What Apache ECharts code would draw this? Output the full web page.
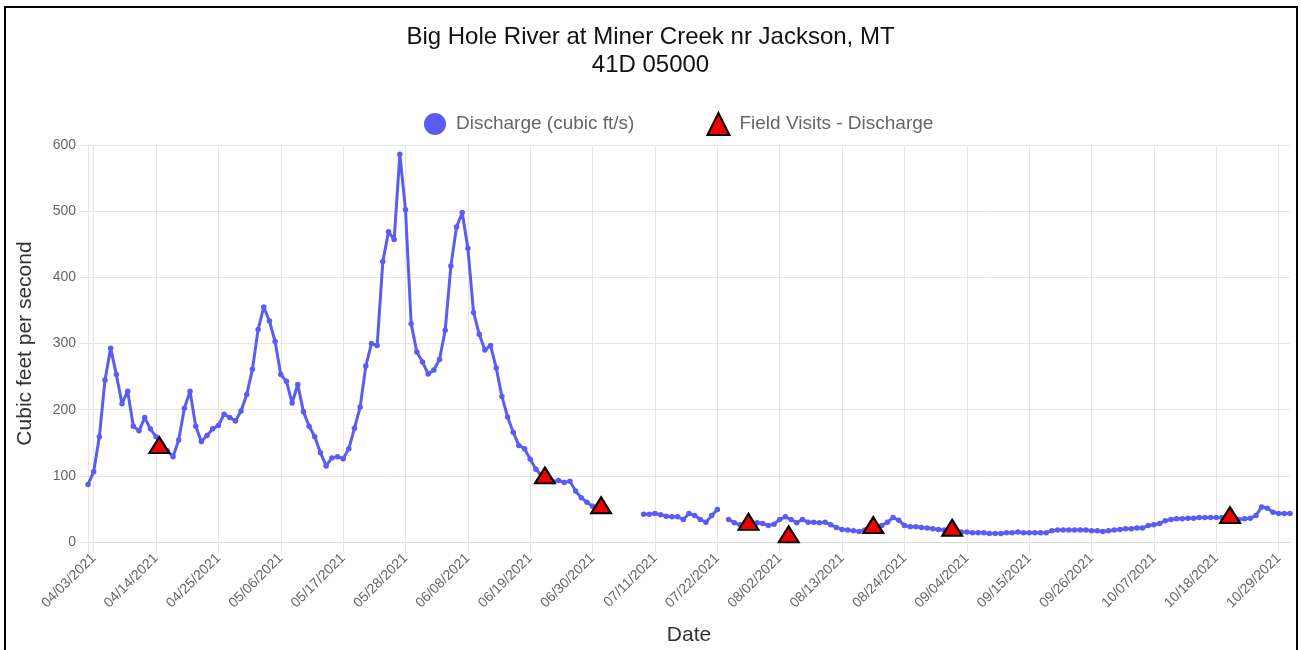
<!DOCTYPE html>
<html>
<head>
<meta charset="utf-8">
<title>Big Hole River at Miner Creek nr Jackson, MT</title>
<script src="https://cdn.jsdelivr.net/npm/echarts@6/dist/echarts.min.js"></script>
<style>
  html, body { margin: 0; padding: 0; background: #fff; }
  #chart { width: 1301px; height: 650px; }
</style>
</head>
<body>
<div id="chart"></div>
<script>
// Daily discharge, one value per day starting 2021-04-02 (null = no record)
const startDate = '2021-04-02';
const discharge = [
  87, 106, 159, 245, 293, 253, 209, 228, 175, 168,
  188, 171, 159, 148, 138, 129, 154, 202, 228, 175,
  152, 161, 171, 176, 193, 188, 183, 198, 223, 261,
  321, 355, 334, 303, 253, 243, 210, 238, 197, 175,
  159, 135, 115, 127, 129, 126, 141, 172, 204, 266,
  300, 297, 424, 469, 457, 586, 502, 330, 287, 272,
  254, 260, 276, 320, 417, 476, 498, 444, 347, 314,
  290, 297, 263, 220, 189, 166, 146, 141, 125, 110,
  100, 95, 91, 93, 90, 92, 77, 67, 60, 54,
  50, null, null, null, null, null, null, null, 42, 42,
  43, 41, 39, 38, 38, 34, 43, 40, 34, 30,
  40, 49, null, 34, 29, 26, 24, 26, 29, 28,
  25, 27, 34, 38, 34, 29, 34, 30, 30, 29,
  30, 26, 22, 19, 18, 17, 16, 18, 19, 21,
  25, 30, 37, 33, 25, 23, 23, 22, 21, 20,
  19, 18, 17, 16, 15, 15, 14, 14, 14, 13,
  13, 13, 14, 14, 15, 14, 14, 14, 14, 14,
  17, 18, 18, 18, 18, 18, 18, 17, 17, 16,
  17, 18, 19, 20, 20, 21, 21, 25, 26, 28,
  32, 34, 35, 35, 36, 36, 37, 37, 37, 37,
  37, 36, 35, 34, 35, 36, 40, 53, 51, 45,
  43, 43, 43
];

// Field visit measurements
const visitTimes = [
  '2021-04-14T14:00', '2021-06-21T14:00', '2021-07-01T12:00', '2021-07-27T12:00',
  '2021-08-03T14:00', '2021-08-18T12:00', '2021-09-01T10:00', '2021-10-20T10:00'
];
const visitValues = [142, 96, 51, 26, 7, 21, 17, 36];

// Date labels shown every 11 days, starting from the second day
const labelStep = 11;
const labelFirst = 1;

const DAY = 86400000;
const t0 = Date.parse(startDate + 'T00:00Z');
const pad = n => (n < 10 ? '0' : '') + n;
const dates = discharge.map((_, i) => {
  const d = new Date(t0 + i * DAY);
  return pad(d.getUTCMonth() + 1) + '/' + pad(d.getUTCDate()) + '/' + d.getUTCFullYear();
});
const visits = visitTimes.map((t, i) => [(Date.parse(t + 'Z') - t0) / DAY, visitValues[i]]);
const lastIndex = discharge.length - 1;

const isLabelDay = idx => idx >= labelFirst && (idx - labelFirst) % labelStep === 0;

const gridColor = '#e6e6e6';
const lineColor = '#5b5bf5';
const font = 'Liberation Sans, Arial, Helvetica, sans-serif';

const chart = echarts.init(document.getElementById('chart'), null, { renderer: 'canvas' });
chart.setOption({
  animation: false,
  backgroundColor: '#fff',
  textStyle: { fontFamily: font },
  title: {
    text: 'Big Hole River at Miner Creek nr Jackson, MT\n41D 05000',
    left: 'center',
    top: 18,
    textStyle: { fontSize: 24, fontWeight: 'normal', color: '#111', lineHeight: 28, fontFamily: font }
  },
  legend: {
    left: 419,
    top: 107,
    itemWidth: 22,
    itemHeight: 22,
    itemGap: 72,
    textStyle: { fontSize: 19, color: '#666', fontFamily: font, padding: [0, 0, 0, 5] },
    data: [
      { name: 'Discharge (cubic ft/s)', icon: 'circle', itemStyle: { color: lineColor, borderWidth: 0 } },
      { name: 'Field Visits - Discharge', icon: 'triangle',
        itemStyle: { color: '#f00000', borderColor: '#000', borderWidth: 2 } }
    ]
  },
  grid: { left: 88, right: 11, top: 145, bottom: 108, containLabel: false, outerBoundsMode: 'none' },
  xAxis: [
    {
      type: 'category',
      data: dates,
      boundaryGap: false,
      name: 'Date',
      nameLocation: 'middle',
      nameGap: 83,
      nameTextStyle: { fontSize: 21, color: '#333', fontFamily: font },
      axisLine: { show: true, lineStyle: { color: '#d9d9d9', width: 1 } },
      axisTick: {
        show: true,
        length: 11,
        interval: idx => idx === 0 || isLabelDay(idx),
        lineStyle: { color: gridColor }
      },
      axisLabel: {
        interval: idx => isLabelDay(idx),
        rotate: 45,
        margin: 14,
        fontSize: 14,
        color: '#666',
        fontFamily: font
      },
      splitLine: {
        show: true,
        interval: idx => isLabelDay(idx),
        lineStyle: { color: gridColor, width: 1 }
      }
    },
    {
      type: 'value',
      min: 0,
      max: lastIndex,
      show: false,
      splitLine: { show: false }
    }
  ],
  yAxis: {
    type: 'value',
    min: 0,
    max: 600,
    interval: 100,
    name: 'Cubic feet per second',
    nameLocation: 'middle',
    nameGap: 52,
    nameTextStyle: { fontSize: 21, color: '#333', fontFamily: font },
    axisLine: { show: true, lineStyle: { color: gridColor } },
    axisTick: { show: true, length: 9, lineStyle: { color: gridColor } },
    axisLabel: { fontSize: 14, color: '#666', margin: 12, fontFamily: font },
    splitLine: { show: true, lineStyle: { color: gridColor, width: 1 } }
  },
  series: [
    {
      name: 'Discharge (cubic ft/s)',
      type: 'line',
      xAxisIndex: 0,
      data: discharge,
      connectNulls: false,
      showSymbol: true,
      showAllSymbol: true,
      symbol: 'circle',
      symbolSize: 5.5,
      itemStyle: { color: lineColor },
      lineStyle: { color: lineColor, width: 3 },
      z: 2
    },
    {
      name: 'Field Visits - Discharge',
      type: 'scatter',
      xAxisIndex: 1,
      data: visits,
      symbol: 'triangle',
      symbolSize: [20, 16],
      symbolOffset: [0, -3],
      itemStyle: { color: '#f00000', borderColor: '#000', borderWidth: 2, opacity: 1 },
      z: 3
    }
  ],
  graphic: [
    {
      type: 'rect',
      shape: { x: 5, y: 7, width: 1292, height: 700 },
      style: { fill: null, stroke: '#000', lineWidth: 2 },
      silent: true,
      z: 100
    }
  ]
});
</script>
</body>
</html>
